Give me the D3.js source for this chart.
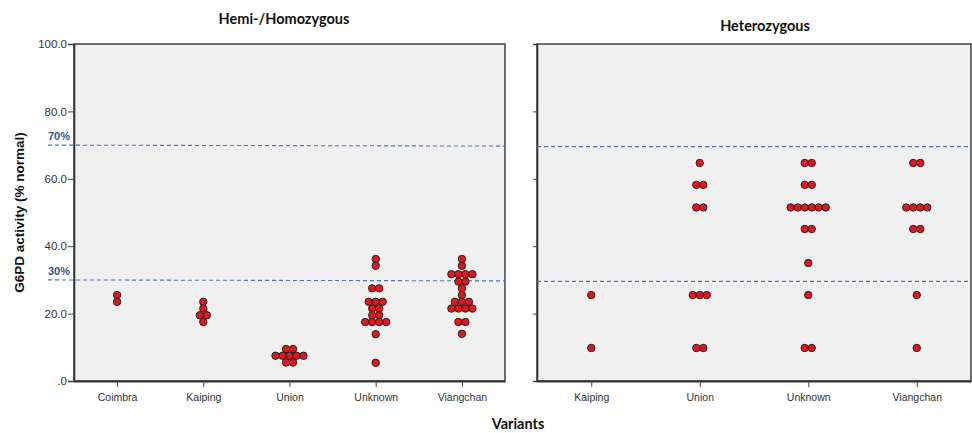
<!DOCTYPE html>
<html>
<head>
<meta charset="utf-8">
<script src="https://cdn.jsdelivr.net/npm/d3@7"></script>
<style>
  html, body { margin: 0; padding: 0; background: #ffffff; }
  svg { display: block; }
</style>
</head>
<body>
<svg id="chart" width="972" height="433"></svg>
<script>
// ---- Data (G6PD activity, % normal; one value per individual) ----
const homCategories = ["Coimbra", "Kaiping", "Union", "Unknown", "Viangchan"];
const hetCategories = ["Kaiping", "Union", "Unknown", "Viangchan"];

const homCoimbra   = [25.5, 23.5];
const homKaiping   = [23.5, 21.5, 19.5, 19.5, 17.5];
const homUnion     = [9.5, 9.5, 7.5, 7.5, 7.5, 7.5, 7.5, 5.5, 5.5];
const homUnknown   = [36.2, 34.2, 27.5, 27.5, 23.5, 23.5, 23.5, 21.5, 21.5, 19.5, 19.5,
                      17.5, 17.5, 17.5, 17.5, 13.9, 5.4];
const homViangchan = [36.2, 34.2, 31.7, 31.7, 31.7, 31.7, 29.5, 29.5, 27.5, 25.5,
                      23.5, 23.5, 23.5, 21.5, 21.5, 21.5, 21.5, 17.5, 17.5, 14.0];

const hetKaiping   = [25.5, 9.8];
const hetUnion     = [64.7, 58.2, 58.2, 51.5, 51.5, 25.5, 25.5, 25.5, 9.8, 9.8];
const hetUnknown   = [64.7, 64.7, 58.2, 58.2, 51.5, 51.5, 51.5, 51.5, 51.5, 51.5,
                      45.1, 45.1, 35.0, 25.5, 9.8, 9.8];
const hetViangchan = [64.7, 64.7, 51.5, 51.5, 51.5, 51.5, 45.1, 45.1, 25.5, 9.8];

const homSeries = [homCoimbra, homKaiping, homUnion, homUnknown, homViangchan];
const hetSeries = [hetKaiping, hetUnion, hetUnknown, hetViangchan];

const yTicks = [0, 20, 40, 60, 80, 100];
const refLines = [70, 30];
const refLabels = ["70%", "30%"];

const panelTitles = ["Hemi-/Homozygous", "Heterozygous"];
const yTitle = "G6PD activity (% normal)";
const xTitle = "Variants";

// ---- Layout ----
const svg = d3.select("#chart");
const plotTop = 44, plotBottom = 381;
const y = d3.scaleLinear().domain([0, 100]).range([plotBottom, plotTop]);

const panels = [
  { x0: 74, x1: 505, cats: homCategories, series: homSeries, title: panelTitles[0], titleX: 284, titleY: 24, labels: true },
  { x0: 537, x1: 971, cats: hetCategories, series: hetSeries, title: panelTitles[1], titleX: 765, titleY: 31, labels: false }
];

const dotR = 3.7, dx = 7;
const tickFont = "'Liberation Sans', Arial, sans-serif";
const titleFont = "Lato, 'Open Sans', sans-serif";

panels.forEach(p => {
  const x = d3.scalePoint().domain(p.cats).range([p.x0, p.x1]).padding(0.5);
  const g = svg.append("g");

  // background
  g.append("rect")
    .attr("x", p.x0).attr("y", plotTop)
    .attr("width", p.x1 - p.x0).attr("height", plotBottom - plotTop)
    .attr("fill", "#f0f0f0")
    .attr("stroke", "#333").attr("stroke-width", 1.4);

  // y axis
  const yAxis = d3.axisLeft(y).tickValues(yTicks).tickSize(p.labels ? 6 : 4)
    .tickFormat(d => p.labels ? (d === 0 ? ".0" : d.toFixed(1)) : "");
  const ya = g.append("g").attr("transform", `translate(${p.x0},0)`).call(yAxis);
  ya.select(".domain").attr("stroke", "#333").attr("stroke-width", 1.6);
  ya.selectAll(".tick line").attr("stroke", "#444");
  ya.selectAll(".tick text").attr("font-family", tickFont).attr("font-size", 11.5)
    .attr("fill", "#333").attr("x", -7);

  // x axis
  const xAxis = d3.axisBottom(x).tickSize(6).tickSizeOuter(0);
  const xa = g.append("g").attr("transform", `translate(0,${plotBottom})`).call(xAxis);
  xa.select(".domain").attr("stroke", "#333").attr("stroke-width", 2);
  xa.selectAll(".tick line").attr("stroke", "#444");
  xa.selectAll(".tick text").attr("font-family", tickFont).attr("font-size", 10.5)
    .attr("fill", "#333").attr("dy", "1.05em");

  // reference lines
  refLines.forEach((v, i) => {
    g.append("line")
      .attr("x1", p.labels ? 48 : p.x0).attr("x2", p.x1)
      .attr("y1", y(v) + (p.labels ? 0 : 1.5)).attr("y2", y(v) + (p.labels ? 1 : 1.5))
      .attr("stroke", "#4a72c0").attr("stroke-width", 1.1)
      .attr("stroke-dasharray", "4,3");
    if (p.labels) {
      g.append("text")
        .attr("x", 48).attr("y", y(v) - 5)
        .attr("font-family", tickFont).attr("font-weight", "bold")
        .attr("font-size", 11).attr("fill", "#2f5597")
        .text(refLabels[i]);
    }
  });

  // dots
  p.cats.forEach((c, ci) => {
    const groups = d3.groups(p.series[ci], d => d);
    groups.forEach(([v, arr]) => {
      const n = arr.length;
      arr.forEach((d, i) => {
        g.append("circle")
          .attr("cx", x(c) + (i - (n - 1) / 2) * dx)
          .attr("cy", y(d))
          .attr("r", dotR)
          .attr("fill", "#e8141c")
          .attr("stroke", "#222").attr("stroke-width", 1);
      });
    });
  });

  // panel title
  svg.append("text")
    .attr("x", p.titleX).attr("y", p.titleY)
    .attr("text-anchor", "middle")
    .attr("font-family", titleFont).attr("font-weight", "bold")
    .attr("font-size", 14.5).attr("fill", "#111")
    .text(p.title);
});

// axis titles
svg.append("text")
  .attr("transform", `translate(24,${(plotTop + plotBottom) / 2}) rotate(-90)`)
  .attr("text-anchor", "middle")
  .attr("font-family", tickFont).attr("font-weight", "bold")
  .attr("font-size", 13.5).attr("fill", "#111")
  .text(yTitle);

svg.append("text")
  .attr("x", 518).attr("y", 429)
  .attr("text-anchor", "middle")
  .attr("font-family", titleFont).attr("font-weight", "bold")
  .attr("font-size", 14.5).attr("fill", "#111")
  .text(xTitle);
</script>
</body>
</html>
